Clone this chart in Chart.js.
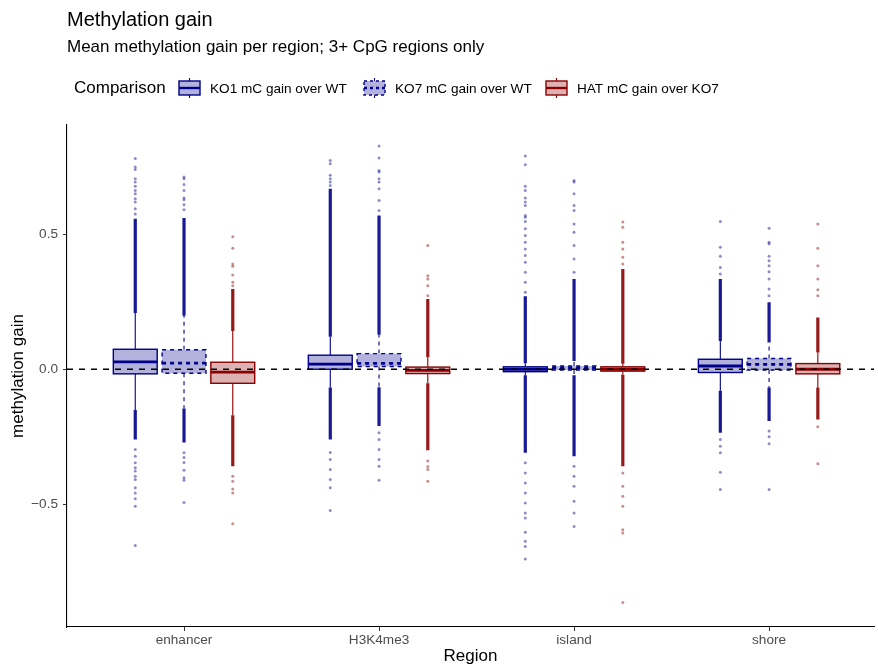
<!DOCTYPE html>
<html>
<head>
<meta charset="utf-8">
<script src="https://cdn.jsdelivr.net/npm/chart.js@4.4.0/dist/chart.umd.min.js"></script>
<style>
  html, body { margin: 0; padding: 0; background: #fff; }
</style>
</head>
<body>
<canvas id="chart" width="878" height="666"></canvas>
<script>
// ===== Dados
const regions = ['enhancer', 'H3K4me3', 'island', 'shore'];
const comparisons = ['KO1 mC gain over WT', 'KO7 mC gain over WT', 'HAT mC gain over KO7'];

// five numbers per region: lower whisker, Q1, median, Q3, upper whisker
const ko1Box = [[-0.151, -0.017, 0.027, 0.074, 0.208], [-0.068, 0.000, 0.019, 0.052, 0.120], [-0.022, -0.009, 0.000, 0.009, 0.022], [-0.080, -0.012, 0.012, 0.037, 0.105]];
const ko7Box = [[-0.145, -0.015, 0.023, 0.072, 0.198], [-0.067, 0.010, 0.022, 0.058, 0.128], [-0.022, -0.003, 0.005, 0.012, 0.031], [-0.068, -0.003, 0.018, 0.040, 0.099]];
const hatBox = [[-0.170, -0.052, -0.011, 0.026, 0.142], [-0.052, -0.016, -0.004, 0.008, 0.044], [-0.020, -0.007, 0.000, 0.009, 0.020], [-0.068, -0.017, 0.000, 0.021, 0.062]];

// outliers so packed they merge into a solid column: [lowest, highest]
const ko1Dense = [[-0.260, 0.557], [-0.260, 0.668], [-0.309, 0.270], [-0.235, 0.334]];
const ko7Dense = [[-0.271, 0.560], [-0.210, 0.569], [-0.322, 0.334], [-0.192, 0.248]];
const hatDense = [[-0.359, 0.297], [-0.300, 0.260], [-0.359, 0.371], [-0.186, 0.192]];

// the sparse outliers beyond the solid columns
const ko1Outliers = [
  [0.780, 0.749, 0.740, 0.705, 0.693, 0.678, 0.662, 0.650, 0.631, 0.619, 0.594, 0.575, -0.297, -0.322, -0.346, -0.365, -0.377, -0.396, -0.408, -0.439, -0.458, -0.480, -0.507, -0.653],
  [0.773, 0.761, 0.718, 0.705, 0.693, 0.680, -0.308, -0.334, -0.371, -0.408, -0.439, -0.523],
  [0.790, 0.757, 0.678, 0.662, 0.634, 0.619, 0.606, 0.569, 0.563, 0.547, 0.520, 0.495, 0.470, 0.445, 0.421, 0.396, 0.359, 0.322, 0.285, -0.346, -0.384, -0.421, -0.458, -0.495, -0.532, -0.551, -0.604, -0.637, -0.656, -0.703],
  [0.547, 0.452, 0.418, 0.377, 0.353, -0.260, -0.285, -0.309, -0.381, -0.445]
];
const ko7Outliers = [
  [0.712, 0.705, 0.684, 0.662, 0.634, 0.628, 0.609, 0.591, -0.309, -0.327, -0.345, -0.374, -0.402, -0.411, -0.493],
  [0.827, 0.782, 0.736, 0.730, 0.705, 0.693, 0.668, 0.625, 0.588, -0.235, -0.260, -0.297, -0.334, -0.359, -0.411],
  [0.699, 0.693, 0.650, 0.606, 0.588, 0.538, 0.507, 0.458, 0.408, 0.359, -0.359, -0.396, -0.433, -0.489, -0.532, -0.582],
  [0.522, 0.470, 0.465, 0.418, 0.402, 0.383, 0.361, 0.334, 0.297, 0.272, -0.229, -0.250, -0.276, -0.445]
];
const hatOutliers = [
  [0.491, 0.448, 0.390, 0.381, 0.349, 0.322, 0.309, -0.396, -0.415, -0.443, -0.458, -0.572],
  [0.458, 0.346, 0.334, 0.309, 0.272, -0.340, -0.360, -0.371, -0.415],
  [0.545, 0.526, 0.470, 0.445, 0.415, 0.390, -0.384, -0.433, -0.470, -0.507, -0.594, -0.606, -0.864],
  [0.538, 0.448, 0.383, 0.334, 0.294, 0.272, -0.213, -0.350]
];

const yTicks = [-0.5, 0, 0.5];

// ===== Estilo
const FONT = '"Liberation Sans", Arial, sans-serif';
const BLUE = '#00008B';
const RED = '#8B0000';
const series = [
  { box: ko1Box, dense: ko1Dense, out: ko1Outliers, line: BLUE, fill: 'rgba(0,0,139,0.3)', dash: [] },
  { box: ko7Box, dense: ko7Dense, out: ko7Outliers, line: BLUE, fill: 'rgba(0,0,139,0.3)', dash: [4, 4] },
  { box: hatBox, dense: hatDense, out: hatOutliers, line: RED, fill: 'rgba(139,0,0,0.3)', dash: [] }
];
const dodge = [-0.25, 0, 0.25];
const BOX_W = 0.225;

// sparse outliers -> scatter datasets
const datasets = series.map((s, si) => ({
  label: comparisons[si],
  data: s.out.flatMap((vals, ri) => vals.map(v => ({ x: ri + 1 + dodge[si], y: v }))),
  pointRadius: 1.5,
  pointBorderWidth: 0,
  pointBackgroundColor: si === 2 ? 'rgba(139,0,0,0.45)' : 'rgba(0,0,139,0.45)'
}));

// ===== Boxplot desenhado pelas escalas
const boxPlugin = {
  id: 'boxes',
  beforeDatasetsDraw(chart) {
    const { ctx, chartArea: a, scales: { x, y } } = chart;
    ctx.save();
    ctx.beginPath(); ctx.rect(a.left, a.top, a.width, a.height); ctx.clip();
    ctx.lineWidth = 3.2;
    ctx.lineCap = 'butt';
    series.forEach((s, si) => s.dense.forEach((d, ri) => {
      const px = x.getPixelForValue(ri + 1 + dodge[si]);
      ctx.strokeStyle = si === 2 ? 'rgba(139,0,0,0.9)' : 'rgba(0,0,139,0.9)';
      ctx.beginPath();
      ctx.moveTo(px, y.getPixelForValue(s.box[ri][0]));
      ctx.lineTo(px, y.getPixelForValue(d[0]));
      ctx.moveTo(px, y.getPixelForValue(s.box[ri][4]));
      ctx.lineTo(px, y.getPixelForValue(d[1]));
      ctx.stroke();
    }));
    ctx.restore();
  },
  afterDatasetsDraw(chart) {
    const { ctx, chartArea: a, scales: { x, y } } = chart;
    ctx.save();
    series.forEach((s, si) => s.box.forEach((b, ri) => {
      const c = ri + 1 + dodge[si];
      const px = x.getPixelForValue(c);
      const x0 = x.getPixelForValue(c - BOX_W / 2);
      const x1 = x.getPixelForValue(c + BOX_W / 2);
      const [lo, q1, med, q3, hi] = b.map(v => y.getPixelForValue(v));
      ctx.strokeStyle = s.line;
      ctx.setLineDash(s.dash);
      // whiskers
      ctx.lineWidth = 1.1;
      ctx.beginPath();
      ctx.moveTo(px, q3); ctx.lineTo(px, hi);
      ctx.moveTo(px, q1); ctx.lineTo(px, lo);
      ctx.stroke();
      // box
      ctx.fillStyle = '#fff';
      ctx.fillRect(x0, q3, x1 - x0, q1 - q3);
      ctx.fillStyle = s.fill;
      ctx.fillRect(x0, q3, x1 - x0, q1 - q3);
      ctx.lineWidth = 1.4;
      ctx.strokeRect(x0, q3, x1 - x0, q1 - q3);
      // median
      ctx.lineWidth = 2.8;
      ctx.beginPath(); ctx.moveTo(x0, med); ctx.lineTo(x1, med); ctx.stroke();
    }));
    // dashed zero line
    const y0 = y.getPixelForValue(0);
    ctx.setLineDash([6, 6]);
    ctx.strokeStyle = '#000';
    ctx.lineWidth = 1.3;
    ctx.beginPath(); ctx.moveTo(a.left, y0); ctx.lineTo(a.right, y0); ctx.stroke();
    ctx.restore();
  },
  afterDraw(chart) {
    const { ctx } = chart;
    ctx.save();
    ctx.fillStyle = '#000';
    ctx.textBaseline = 'alphabetic';
    ctx.font = '20px ' + FONT;
    ctx.fillText('Methylation gain', 67, 26);
    ctx.font = '17px ' + FONT;
    ctx.fillText('Mean methylation gain per region; 3+ CpG regions only', 67, 52);
    ctx.fillText('Comparison', 74, 93);
    // legend keys
    const keyX = [179, 364, 546];
    ctx.font = '13.6px ' + FONT;
    series.forEach((s, si) => {
      const kx = keyX[si], kw = 21, cy = 88;
      ctx.strokeStyle = s.line;
      ctx.setLineDash(s.dash.length ? [3, 3] : []);
      ctx.lineWidth = 1.1;
      ctx.beginPath();
      ctx.moveTo(kx + kw / 2, cy - 10); ctx.lineTo(kx + kw / 2, cy - 7);
      ctx.moveTo(kx + kw / 2, cy + 7); ctx.lineTo(kx + kw / 2, cy + 10);
      ctx.stroke();
      ctx.fillStyle = s.fill;
      ctx.fillRect(kx, cy - 7, kw, 14);
      ctx.lineWidth = 1.4;
      ctx.strokeRect(kx, cy - 7, kw, 14);
      ctx.lineWidth = 2.4;
      ctx.beginPath(); ctx.moveTo(kx, cy); ctx.lineTo(kx + kw, cy); ctx.stroke();
      ctx.setLineDash([]);
      ctx.fillStyle = '#000';
      ctx.fillText(comparisons[si], kx + kw + 10, 93);
    });
    ctx.restore();
  }
};

new Chart(document.getElementById('chart'), {
  type: 'scatter',
  data: { datasets },
  options: {
    responsive: false,
    animation: false,
    layout: { padding: { top: 125, right: -4, bottom: 0, left: 0 } },
    plugins: { legend: { display: false }, tooltip: { enabled: false } },
    scales: {
      x: {
        type: 'linear',
        min: 0.4,
        max: 4.538,
        afterBuildTicks: (s) => { s.ticks = regions.map((_, i) => ({ value: i + 1 })); },
        afterFit: (s) => { s.height = 39; },
        ticks: { callback: (v) => regions[Math.round(v) - 1], color: '#4D4D4D', font: { family: FONT, size: 13.6 }, padding: 1, maxRotation: 0, autoSkip: false },
        grid: { drawOnChartArea: false, drawTicks: true, tickLength: 4, color: '#333' },
        border: { display: true, color: '#000', width: 1.1 },
        title: { display: true, text: 'Region', color: '#000', font: { family: FONT, size: 17 }, padding: { top: 0, bottom: -1 } }
      },
      y: {
        min: -0.9545,
        max: 0.9045,
        afterBuildTicks: (s) => { s.ticks = yTicks.map(v => ({ value: v })); },
        afterFit: (s) => { s.width = 67; },
        ticks: { callback: (v) => (v < 0 ? '\u2212' + Math.abs(v).toFixed(1) : v.toFixed(1)), color: '#4D4D4D', font: { family: FONT, size: 13.6 }, padding: 5 },
        grid: { drawOnChartArea: false, drawTicks: true, tickLength: 4, color: '#333' },
        border: { display: true, color: '#000', width: 1.1 },
        title: { display: true, text: 'methylation gain', color: '#000', font: { family: FONT, size: 17 }, padding: { top: 8, bottom: 0 } }
      }
    }
  },
  plugins: [boxPlugin]
});
</script>
</body>
</html>
